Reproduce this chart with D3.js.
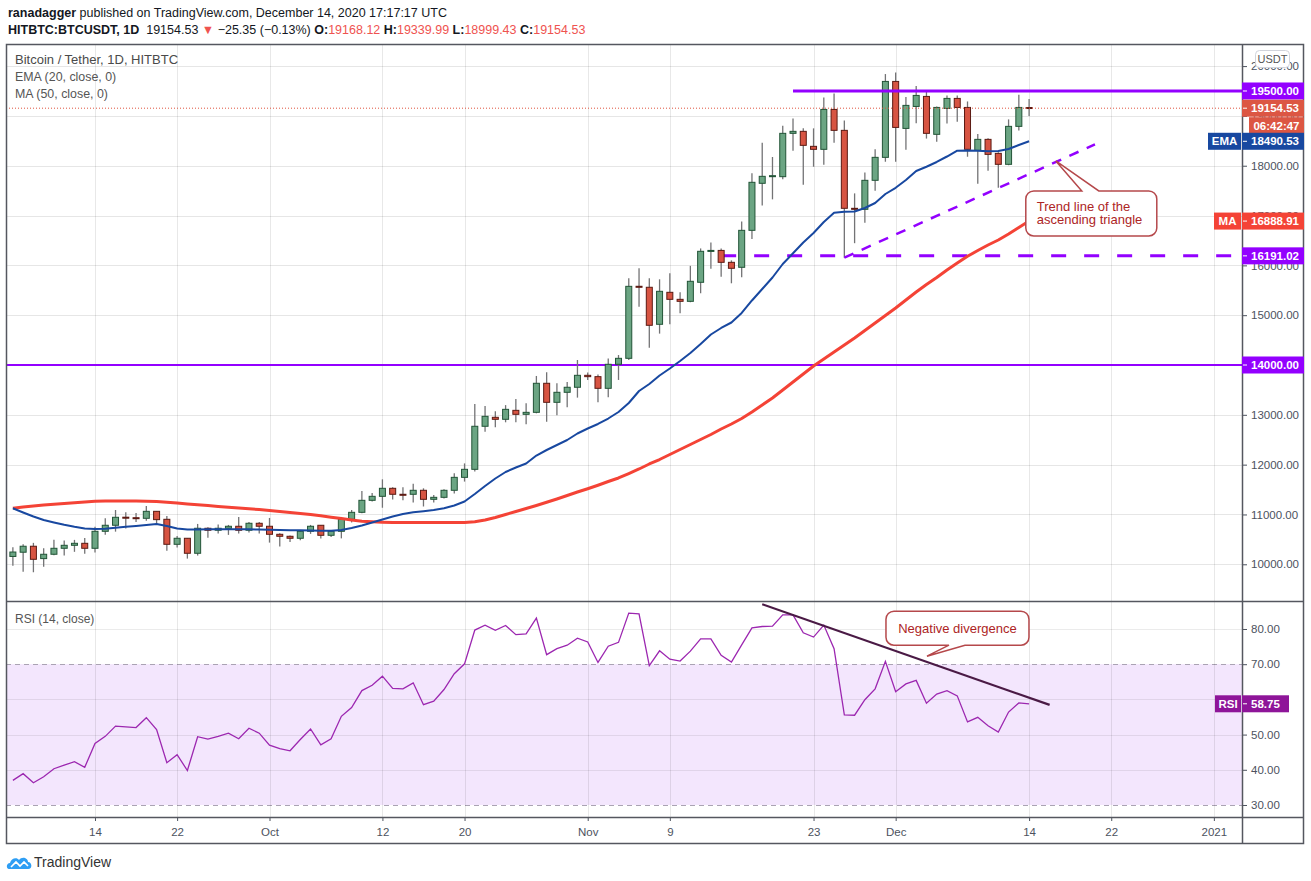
<!DOCTYPE html>
<html>
<head>
<meta charset="utf-8">
<script src="https://cdn.jsdelivr.net/npm/d3@7"></script>
<style>
body { margin: 0; background: #fff; }
svg text { font-family: "Liberation Sans", Arial, sans-serif; }
</style>
</head>
<body>
<div id="chart"></div>
<script>
var W = 1311, H = 881;
var DAY = 864e5;
var firstDay = Date.UTC(2020, 8, 6);

// daily candles, Sep 6 .. Dec 14 2020
var open = [10157,10242,10362,10114,10201,10321,10381,10421,10321,10662,10783,10945,10935,10923,11063,10903,10401,10522,10221,10723,
  10683,10723,10763,10683,10823,10763,10602,10562,10522,10662,10783,10582,10662,10903,11043,11284,11364,11525,11405,11405,
  11485,11304,11344,11485,11745,11906,12770,12950,12910,13090,13010,13050,13633,13251,13452,13553,13793,13766,13532,14014,
  14134,15580,15560,14817,15459,15318,15278,15660,16282,16300,16061,15961,16703,17647,17780,17780,18650,18690,18389,18329,
  19130,18710,17145,17125,17707,18168,19692,18749,19190,19391,18630,19150,19351,19170,18309,18529,18248,18028,18790,19168.12];
var high = [10341,10400,10430,10320,10490,10475,10490,10530,10755,10925,11090,11045,11030,11170,11065,10970,10570,10525,10810,10745,
  10800,10790,10950,10850,10850,10930,10625,10580,10680,10790,10790,10690,10950,11090,11470,11430,11705,11545,11545,11615,
  11525,11390,11505,11825,12025,13215,13175,13070,13195,13320,13230,13780,13855,13633,13660,14100,13850,13810,14130,14200,
  15740,15940,15740,15720,15840,15460,15990,16340,16460,16340,16100,16880,17850,18460,18175,18800,18950,18750,18750,19370,
  19450,18910,17445,17865,18330,19840,19870,19380,19600,19520,19190,19410,19410,19290,18635,18550,18270,18930,19425,19339.99];
var low = [9972,9850,9840,9950,10180,10175,10250,10210,10235,10595,10655,10720,10850,10875,10820,10273,10335,10114,10175,10535,
  10620,10590,10620,10640,10620,10435,10355,10445,10480,10610,10520,10550,10520,10840,11025,11260,11135,11300,11285,11240,
  11160,11240,11320,11420,11660,11860,12660,12750,12850,12850,12810,13030,12860,12990,13150,13345,13700,13250,13355,13700,
  14100,15170,14347,14630,14820,15040,15260,15440,15930,15770,15640,15760,16530,17200,17325,17730,18300,17620,17980,18020,
  18460,16155,16445,16855,17500,18080,18080,18320,18850,18545,18480,18845,18885,18180,17640,17900,17560,18010,18705,18999.43];
var close = [10246,10362,10100,10201,10321,10381,10421,10321,10662,10783,10943,10935,10920,11063,10896,10401,10522,10221,10723,10683,
  10723,10763,10683,10823,10763,10602,10562,10522,10662,10763,10582,10662,10903,11043,11284,11364,11525,11405,11400,11485,
  11304,11344,11485,11745,11906,12770,12970,12910,13110,13010,13050,13633,13251,13452,13553,13793,13766,13532,14014,14134,
  15579,15572,14797,15479,15318,15278,15680,16282,16300,16061,15941,16703,17667,17787,17800,18650,18690,18409,18329,19130,
  18710,17145,17137,17707,18168,19692,18769,19211,19411,18650,19170,19351,19170,18329,18529,18228,18028,18790,19170,19154.53];

// EMA (20) and MA (50) as drawn on the chart
var ema20 = [11124,11039,10959,10889,10839,10792,10752,10718,10708,10712,10732,10752,10768,10788,10809,10768,10718,10698,10698,10702,
  10702,10702,10702,10702,10698,10692,10688,10684,10682,10678,10674,10674,10688,10728,10778,10839,10899,10959,11009,11045,
  11066,11090,11124,11180,11260,11411,11571,11722,11852,11943,12023,12183,12294,12394,12495,12625,12725,12816,12926,13057,
  13237,13478,13619,13789,13930,14080,14241,14422,14612,14743,14853,15044,15295,15526,15756,16027,16242,16459,16650,16870,
  17057,17075,17081,17151,17252,17432,17557,17713,17894,17980,18075,18185,18301,18305,18301,18291,18295,18336,18416,18490.53];
var ma50 = [11124,11150,11170,11190,11204,11220,11234,11250,11264,11270,11270,11270,11270,11266,11260,11244,11230,11210,11194,11178,
  11162,11146,11130,11114,11098,11080,11060,11040,11019,10999,10973,10945,10917,10889,10865,10853,10845,10841,10839,10839,
  10839,10839,10839,10839,10839,10853,10889,10939,10999,11060,11120,11180,11244,11310,11381,11451,11517,11587,11662,11732,
  11822,11913,12013,12103,12204,12304,12404,12505,12605,12715,12816,12926,13057,13197,13338,13498,13659,13819,13980,14120,
  14261,14401,14542,14692,14843,14994,15144,15305,15465,15616,15756,15907,16047,16182,16298,16409,16509,16629,16760,16888.91];

// RSI (14)
var rsi14 = [37.0,38.9,36.3,38.0,40.3,41.3,42.3,40.7,47.5,49.5,52.4,52.2,52.0,54.8,51.4,42.0,44.3,39.8,49.4,48.7,
  49.5,50.4,48.8,51.8,50.4,47.0,46.0,45.4,48.6,51.6,47.1,48.8,55.2,57.7,62.5,64.0,66.6,63.1,63.0,64.7,
  58.5,59.5,62.8,67.3,70.1,79.7,81.1,79.6,81.0,78.4,78.6,83.1,72.7,74.4,75.4,77.4,76.3,70.5,75.1,76.2,
  84.5,84.3,69.6,73.8,71.4,70.9,73.7,77.2,77.2,72.5,70.6,75.5,80.3,80.7,80.8,84.0,84.0,78.9,77.7,81.1,
  74.4,55.6,55.5,59.9,63.0,70.8,62.2,64.4,65.4,58.9,61.5,62.5,61.0,53.6,54.9,52.5,50.7,56.4,59.0,58.75];

var timeTicks = ["2020-09-14","2020-09-22","2020-10-01","2020-10-12","2020-10-20","2020-11-01","2020-11-09",
  "2020-11-23","2020-12-01","2020-12-14","2020-12-22","2021-01-01"];
var priceTicks = [10000,11000,12000,13000,14000,15000,16000,17000,18000,19000,20000];
var rsiTicks = [30,40,50,60,70,80];

// drawings
var levelPrices = [19500, 16191.02, 14000];
var levelStarts = ["2020-11-21", "2020-11-14", "2020-09-01"];
var triDates = ["2020-11-26", "2020-12-20T10:00"];
var triPrices = [16155, 18430];
var divDates = ["2020-11-18", "2020-12-16"];
var divValues = [87.05, 58.44];

var dates = open.map(function(d, i) { return new Date(firstDay + i * DAY); });
function utc(s) { return new Date(s + (s.length > 10 ? ":00Z" : "T00:00:00Z")); }

var L = 6, R = 1242, R2 = 1304, T = 44, M = 601, B = 817, AX = 844;

var sep14 = Date.UTC(2020, 8, 14);
var x = d3.scaleUtc()
    .domain([new Date(sep14 - 8.67 * DAY), new Date(sep14 + 111.74 * DAY)])
    .range([L, R]);
var y = d3.scaleLinear().domain([9263, 20443.2]).range([M, T]);
var yr = d3.scaleLinear().domain([26.59, 87.95]).range([B, M]);

var svg = d3.select("#chart").append("svg")
    .attr("width", W).attr("height", H);
svg.append("rect").attr("width", W).attr("height", H).attr("fill", "#fff");

var defs = svg.append("defs");
defs.append("clipPath").attr("id", "clipMain").append("rect")
    .attr("x", L).attr("y", T).attr("width", R - L).attr("height", M - T);
defs.append("clipPath").attr("id", "clipRsi").append("rect")
    .attr("x", L).attr("y", M).attr("width", R - L).attr("height", B - M);

// header
var h1 = svg.append("text").attr("x", 8).attr("y", 17).attr("font-size", 12.5).attr("fill", "#131722");
h1.append("tspan").attr("font-weight", "bold").text("ranadagger");
h1.append("tspan").text(" published on TradingView.com, December 14, 2020 17:17:17 UTC");

var last = open.length - 1;
var red = "#ef5350";
var h2 = svg.append("text").attr("x", 8).attr("y", 34).attr("font-size", 12.5).attr("fill", "#131722")
    .style("white-space", "pre");
h2.append("tspan").attr("font-weight", "bold").text("HITBTC:BTCUSDT, 1D");
h2.append("tspan").text("  " + close[last].toFixed(2) + " ");
h2.append("tspan").attr("fill", red).text("▼");
h2.append("tspan").text(" \u221225.35 (\u22120.13%) ");
[["O:", open[last]], ["H:", high[last]], ["L:", low[last]], ["C:", close[last]]].forEach(function(p, i) {
  h2.append("tspan").attr("font-weight", "bold").text((i ? " " : "") + p[0]);
  h2.append("tspan").attr("fill", red).text(p[1].toFixed(2));
});

// grid
var grid = svg.append("g").attr("stroke", "#e6e6e6").attr("stroke-width", 1);
grid.selectAll("line.p").data(priceTicks).join("line")
    .attr("x1", L).attr("x2", R).attr("y1", d => Math.round(y(d)) + 0.5).attr("y2", d => Math.round(y(d)) + 0.5);

// RSI band
svg.append("rect").attr("x", L).attr("width", R - L)
    .attr("y", yr(70)).attr("height", yr(30) - yr(70)).attr("fill", "#f3e6fd");
svg.append("g").selectAll("line").data(rsiTicks.filter(d => d !== 70 && d !== 30)).join("line")
    .attr("x1", L).attr("x2", R).attr("y1", d => Math.round(yr(d)) + 0.5).attr("y2", d => Math.round(yr(d)) + 0.5)
    .attr("stroke", "rgba(0,0,0,0.08)");
svg.append("g").selectAll("line").data([70, 30]).join("line")
    .attr("x1", L).attr("x2", R).attr("y1", d => Math.round(yr(d)) + 0.5).attr("y2", d => Math.round(yr(d)) + 0.5)
    .attr("stroke", "#aaa3b3").attr("stroke-dasharray", "5,4");

svg.append("g").selectAll("line").data(timeTicks).join("line")
    .attr("x1", d => Math.round(x(utc(d))) + 0.5).attr("x2", d => Math.round(x(utc(d))) + 0.5)
    .attr("y1", T).attr("y2", B)
    .attr("stroke", "rgba(0,0,0,0.09)");

// main pane
var main = svg.append("g").attr("clip-path", "url(#clipMain)");

var purple = "#9300ff";
// 14000 and 16191 levels (behind candles)
main.append("line")
    .attr("x1", x(utc(levelStarts[2]))).attr("x2", R)
    .attr("y1", y(levelPrices[2])).attr("y2", y(levelPrices[2]))
    .attr("stroke", purple).attr("stroke-width", 2);
main.append("line")
    .attr("x1", x(utc(levelStarts[1]))).attr("x2", R)
    .attr("y1", y(levelPrices[1])).attr("y2", y(levelPrices[1]))
    .attr("stroke", purple).attr("stroke-width", 3).attr("stroke-dasharray", "15,18");

var candles = dates.map(function(d, i) {
  return { date: d, o: open[i], h: high[i], l: low[i], c: close[i] };
});
main.append("g").selectAll("line").data(candles).join("line")
    .attr("x1", d => x(d.date)).attr("x2", d => x(d.date))
    .attr("y1", d => y(d.h)).attr("y2", d => y(d.l))
    .attr("stroke", "#737375").attr("stroke-width", 1.3);
main.append("g").selectAll("rect").data(candles).join("rect")
    .attr("x", d => x(d.date) - 3).attr("width", 6)
    .attr("y", d => y(Math.max(d.o, d.c)))
    .attr("height", d => Math.max(1, Math.abs(y(d.o) - y(d.c))))
    .attr("fill", d => d.c >= d.o ? "#6ba583" : "#d75442")
    .attr("stroke", d => d.c >= d.o ? "#225437" : "#5b1a13")
    .attr("stroke-width", 1);

var lineFn = d3.line().x((d, i) => x(dates[i])).y(d => y(d));
main.append("path").datum(ma50).attr("d", lineFn)
    .attr("fill", "none").attr("stroke", "#f44336").attr("stroke-width", 3).attr("stroke-linejoin", "round");
main.append("path").datum(ema20).attr("d", lineFn)
    .attr("fill", "none").attr("stroke", "#1848a0").attr("stroke-width", 2).attr("stroke-linejoin", "round");

// drawings on top
main.append("line")
    .attr("x1", x(utc(levelStarts[0]))).attr("x2", R)
    .attr("y1", y(levelPrices[0])).attr("y2", y(levelPrices[0]))
    .attr("stroke", purple).attr("stroke-width", 3);
main.append("line")
    .attr("x1", L).attr("x2", R)
    .attr("y1", y(close[last])).attr("y2", y(close[last]))
    .attr("stroke", "#e0533d").attr("stroke-width", 1).attr("stroke-dasharray", "1,2");
main.append("line")
    .attr("x1", x(utc(triDates[0]))).attr("y1", y(triPrices[0]))
    .attr("x2", x(utc(triDates[1]))).attr("y2", y(triPrices[1]))
    .attr("stroke", purple).attr("stroke-width", 2.5).attr("stroke-dasharray", "10,9");

function calloutPath(b, tip, edge, a0, a1) {
  var p = d3.path(), r = 8, x0 = b.x, y0 = b.y, x1 = b.x + b.w, y1 = b.y + b.h;
  p.moveTo(x0 + r, y0);
  if (edge === "top") { p.lineTo(a0, y0); p.lineTo(tip[0], tip[1]); p.lineTo(a1, y0); }
  p.arcTo(x1, y0, x1, y1, r);
  p.arcTo(x1, y1, x0, y1, r);
  if (edge === "bottom") { p.lineTo(a1, y1); p.lineTo(tip[0], tip[1]); p.lineTo(a0, y1); }
  p.arcTo(x0, y1, x0, y0, r);
  p.arcTo(x0, y0, x1, y0, r);
  p.closePath();
  return p.toString();
}

// callout: trend line
var tip1 = [x(utc("2020-12-16T14:24")), y(18095)];
var box1 = { x: tip1[0] - 30, y: tip1[1] + 30, w: 131, h: 45 };
svg.append("path").attr("d", calloutPath(box1, tip1, "top", tip1[0] + 26, tip1[0] + 43))
    .attr("fill", "#fff").attr("stroke", "#b5484b").attr("stroke-width", 1.5);
svg.append("text").attr("x", box1.x + 11).attr("y", box1.y + 20).attr("font-size", 13).attr("fill", "#ad2525")
    .selectAll("tspan").data(["Trend line of the", "ascending triangle"]).join("tspan")
    .attr("x", box1.x + 11).attr("dy", (d, i) => i ? 13.5 : 0).text(d => d);

// legends
var lg = svg.append("g").attr("font-size", 12.4).attr("fill", "#555");
lg.append("text").attr("x", 15).attr("y", 64).attr("font-size", 13).attr("fill", "#4a4a4a").text("Bitcoin / Tether, 1D, HITBTC");
lg.append("text").attr("x", 15).attr("y", 81).text("EMA (20, close, 0)");
lg.append("text").attr("x", 15).attr("y", 98).text("MA (50, close, 0)");

// RSI pane
var rsiG = svg.append("g").attr("clip-path", "url(#clipRsi)");
rsiG.append("path").datum(rsi14)
    .attr("d", d3.line().x((d, i) => x(dates[i])).y(d => yr(d)))
    .attr("fill", "none").attr("stroke", "#9c27b0").attr("stroke-width", 1.3);
rsiG.append("line")
    .attr("x1", x(utc(divDates[0]))).attr("y1", yr(divValues[0]))
    .attr("x2", x(utc(divDates[1]))).attr("y2", yr(divValues[1]))
    .attr("stroke", "#4a1a45").attr("stroke-width", 2.2);
svg.append("text").attr("x", 15).attr("y", 623).attr("font-size", 12).attr("fill", "#555").text("RSI (14, close)");

var tip2 = [x(utc("2020-12-04T01:12")), yr(72.27)];
var box2 = { x: tip2[0] - 41, y: tip2[1] - 45, w: 143, h: 34 };
svg.append("path").attr("d", calloutPath(box2, tip2, "bottom", tip2[0] + 22, tip2[0] + 38))
    .attr("fill", "#fff").attr("stroke", "#b5484b").attr("stroke-width", 1.5);
svg.append("text").attr("x", box2.x + box2.w / 2).attr("y", box2.y + 21.5).attr("text-anchor", "middle")
    .attr("font-size", 13).attr("fill", "#ad2525").text("Negative divergence");

// axes
var axisColor = "#4c525e";
var pAxis = svg.append("g").attr("transform", "translate(" + (R + 1) + ",0)")
    .call(d3.axisRight(y).tickValues(priceTicks).tickFormat(d3.format(".2f")).tickSize(4).tickPadding(4));
var rAxis = svg.append("g").attr("transform", "translate(" + (R + 1) + ",0)")
    .call(d3.axisRight(yr).tickValues(rsiTicks).tickFormat(d3.format(".2f")).tickSize(4).tickPadding(4));
var tFmt = function(d) {
  if (d.getUTCMonth() === 0 && d.getUTCDate() === 1) return d3.utcFormat("%Y")(d);
  if (d.getUTCDate() === 1) return d3.utcFormat("%b")(d);
  return d3.utcFormat("%-d")(d);
};
var tAxis = svg.append("g").attr("transform", "translate(0," + B + ")")
    .call(d3.axisBottom(x).tickValues(timeTicks.map(utc)).tickFormat(tFmt).tickSize(4).tickPadding(7));
[pAxis, rAxis, tAxis].forEach(function(g) {
  g.select(".domain").remove();
  g.selectAll("line").attr("stroke", axisColor);
  g.selectAll("text").attr("fill", axisColor).attr("font-size", 11.5)
      .style("font-family", '"Liberation Sans", Arial, sans-serif');
});
pAxis.selectAll(".tick").filter(d => y(d) < T || y(d) > M).remove();

// frame
var fr = svg.append("g").attr("stroke", "#55575f").attr("stroke-width", 1.5).attr("fill", "none");
fr.append("rect").attr("x", L + 0.5).attr("y", T + 0.5).attr("width", R2 - L - 1).attr("height", AX - T - 1);
fr.append("line").attr("x1", R + 0.5).attr("x2", R + 0.5).attr("y1", T).attr("y2", AX);
fr.append("line").attr("x1", L).attr("x2", R2).attr("y1", M + 0.5).attr("y2", M + 0.5);
fr.append("line").attr("x1", L).attr("x2", R2).attr("y1", B + 0.5).attr("y2", B + 0.5);

// USDT badge
svg.append("rect").attr("x", 1255.5).attr("y", 50.5).attr("width", 34).attr("height", 17).attr("rx", 4)
    .attr("fill", "#fff").attr("stroke", "#d1d4dc");
svg.append("text").attr("x", 1272.5).attr("y", 63).attr("text-anchor", "middle")
    .attr("font-size", 11).attr("fill", "#555").text("USDT");

// price-scale labels
function priceLabel(yc, txt, color, tag, tagW, x1) {
  var x0 = R;
  x1 = x1 || R2;
  var g = svg.append("g");
  g.append("rect").attr("x", x0).attr("y", yc - 8.5).attr("width", x1 - x0).attr("height", 17).attr("fill", color);
  g.append("line").attr("x1", x0 + 1).attr("x2", x0 + 5).attr("y1", yc).attr("y2", yc).attr("stroke", "#fff");
  g.append("text").attr("x", x0 + 9).attr("y", yc + 4).attr("font-size", 11.5).attr("font-weight", "bold")
      .attr("fill", "#fff").text(txt);
  if (tag) {
    g.append("rect").attr("x", R - 1 - tagW).attr("y", yc - 8.5).attr("width", tagW).attr("height", 17).attr("fill", color);
    g.append("text").attr("x", R - 1 - tagW / 2).attr("y", yc + 4).attr("text-anchor", "middle")
        .attr("font-size", 11.5).attr("font-weight", "bold").attr("fill", "#fff").text(tag);
  }
}
var fmt2 = d3.format(".2f");
priceLabel(y(levelPrices[0]), fmt2(levelPrices[0]), purple);
priceLabel(y(close[last]), fmt2(close[last]), "#dc5643");
(function() {
  var yc = y(close[last]) + 17.5;
  svg.append("rect").attr("x", 1249).attr("y", yc - 8.5).attr("width", R2 - 1249).attr("height", 17).attr("fill", "#dc5643");
  svg.append("text").attr("x", (1249 + R2) / 2).attr("y", yc + 4).attr("text-anchor", "middle")
      .attr("font-size", 11.5).attr("font-weight", "bold").attr("fill", "#fff").text("06:42:47");
})();
priceLabel(y(ema20[last]), fmt2(ema20[last]), "#1848a0", "EMA", 33);
priceLabel(y(ma50[last]), fmt2(ma50[last]), "#f44336", "MA", 27);
priceLabel(y(levelPrices[1]), fmt2(levelPrices[1]), purple);
priceLabel(y(levelPrices[2]), fmt2(levelPrices[2]), purple);
priceLabel(yr(rsi14[last]), fmt2(rsi14[last]), "#8e1599", "RSI", 26, 1289);

// TradingView logo
var logo = svg.append("g").attr("transform", "translate(7,853)");
logo.append("path")
    .attr("d", "M2,16 C-1,16 -1,10 3,10 C4,5 10,4 12,7 C15,3 21,5 21,9 C25,9 26,16 21,16 Z")
    .attr("fill", "#2e9ef4");
logo.append("path").attr("d", "M4,14 L9,9 L13,13 L17,9 L21,13")
    .attr("fill", "none").attr("stroke", "#fff").attr("stroke-width", 1.6);
svg.append("text").attr("x", 34).attr("y", 867).attr("font-size", 14).attr("fill", "#333").text("TradingView");
</script>
</body>
</html>
